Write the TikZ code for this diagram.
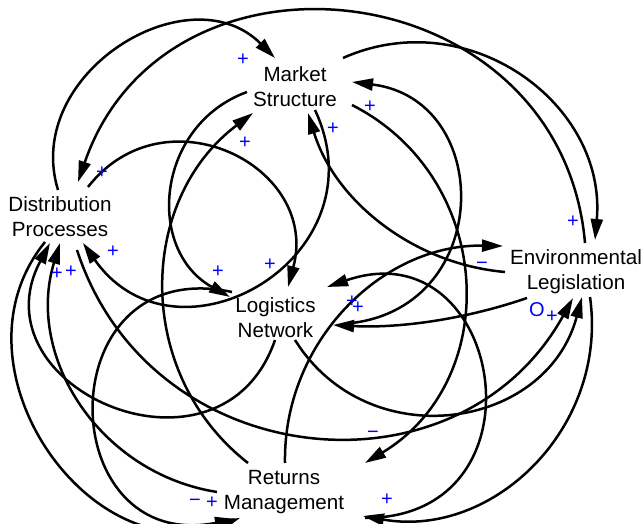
\documentclass[tikz,border=0pt]{standalone}
\usepackage{fontspec}
\setmainfont{Liberation Sans}
\usetikzlibrary{calc,arrows.meta}

\begin{document}
\begin{tikzpicture}[x=1pt,y=1pt,
  var/.style={align=center,inner sep=0pt,font=\fontsize{20.6}{25}\selectfont},
  link/.style={line width=2.5pt,-{Triangle[length=21pt,width=12pt]}},
  pol/.style={text=blue,inner sep=0pt,font=\fontsize{20}{24}\selectfont}]

\useasboundingbox (0,0) rectangle (642,524);

% Define variables
\node[var] (MS) at (295,437) {Market\\Structure};
\node[var] (DP) at (60,307) {Distribution\\Processes};
\node[var] (LN) at (275.5,206) {Logistics\\Network};
\node[var] (EL) at (576,252) {Environmental\\Legislation};
\node[var] (RM) at (284,32) {Returns\\Management};

% Links out of Distribution Processes
\draw[link] ($(DP)+(-2,27)$) to[out=107,in=135,distance=122pt] ($(MS)+(-20,29)$);
\draw[link] ($(DP)+(28,30)$) to[out=52,in=75,distance=125pt] ($(LN)+(12.5,31)$);
\draw[link] ($(DP)+(17,-33)$) to[out=-72,in=241,distance=236pt] ($(EL)+(-3,-26)$);
\draw[link] ($(DP)+(-15,-25)$) to[out=231,in=200,distance=160pt] ($(RM)+(-44,-26)$);

% Links out of Market Structure
\draw[link] ($(MS)+(20,-23)$) to[out=-65,in=-55,distance=163pt] ($(DP)+(23,-26)$);
\draw[link] ($(MS)+(-48,-5)$) to[out=200,in=151,distance=97pt] ($(LN)+(-45.5,21)$);
\draw[link] ($(MS)+(48,29)$) to[out=24,in=85,distance=137pt] ($(EL)+(19,32)$);
\draw[link] ($(MS)+(57,-18)$) to[out=-27,in=31,distance=161pt] ($(RM)+(81,29)$);

% Links out of Logistics Network
\draw[link] ($(LN)+(76.5,-5)$) to[out=7,in=-7,distance=143pt] ($(MS)+(57,5)$);
\draw[link] ($(LN)+(-0.5,-22)$) to[out=-109,in=242,distance=165pt] ($(DP)+(-10,-26)$);
\draw[link] ($(LN)+(19.5,-22)$) to[out=-58,in=255,distance=138pt] ($(EL)+(6,-25)$);
\draw[link] ($(LN)+(-43.5,26)$) to[out=168,in=191,distance=189pt] ($(RM)+(-48,-27)$);

% Links out of Environmental Legislation
\draw[link] ($(EL)+(-71,0)$) to[out=175,in=287,distance=92pt] ($(MS)+(13,-26)$);
\draw[link] ($(EL)+(9,29)$) to[out=95,in=71,distance=272pt] ($(DP)+(18,35)$);
\draw[link] ($(EL)+(-49,-26)$) to[out=199,in=357,distance=66pt] ($(LN)+(57.5,-7)$);
\draw[link] ($(EL)+(14,-25)$) to[out=-82,in=350,distance=132pt] ($(RM)+(79,-24)$);

% Links out of Returns Management
\draw[link] ($(RM)+(-36,29)$) to[out=142,in=217,distance=145pt] ($(MS)+(-42,-26)$);
\draw[link] ($(RM)+(-67,0)$) to[out=171,in=253,distance=119pt] ($(DP)+(0,-26)$);
\draw[link] ($(RM)+(81,-26)$) to[out=0,in=19,distance=187pt] ($(LN)+(51.5,31)$);
\draw[link] ($(RM)+(1,29)$) to[out=91,in=179,distance=121pt] ($(EL)+(-73,26)$);

% Polarity signs
\node[pol] (p1) at (243,464) {+};
\node[pol] (p2) at (102,351) {+};
\node[pol] (p3) at (245,381) {+};
\node[pol] (p4) at (333,395) {+};
\node[pol] (p5) at (370,417) {+};
\node[pol] (p6) at (573,302) {+};
\node[pol] (p7) at (113,272) {+};
\node[pol] (p8) at (218,252) {+};
\node[pol] (p9) at (270,259) {+};
\node[pol] (p10) at (57,250) {+};
\node[pol] (p11) at (71,252) {+};
\node[pol] (p12) at (352,222) {+};
\node[pol] (p13) at (358,216) {+};
\node[pol] (p14) at (387,24) {+};
\node[pol] (p15) at (212,21) {+};
\node[pol] (p16) at (552,207) {+};
\node[pol] (p17) at (195,21) {−};
\node[pol] (p18) at (482,258) {−};
\node[pol] (p19) at (373,89) {−};
\node[pol] (p20) at (537,214) {O};

\end{tikzpicture}
\end{document}
